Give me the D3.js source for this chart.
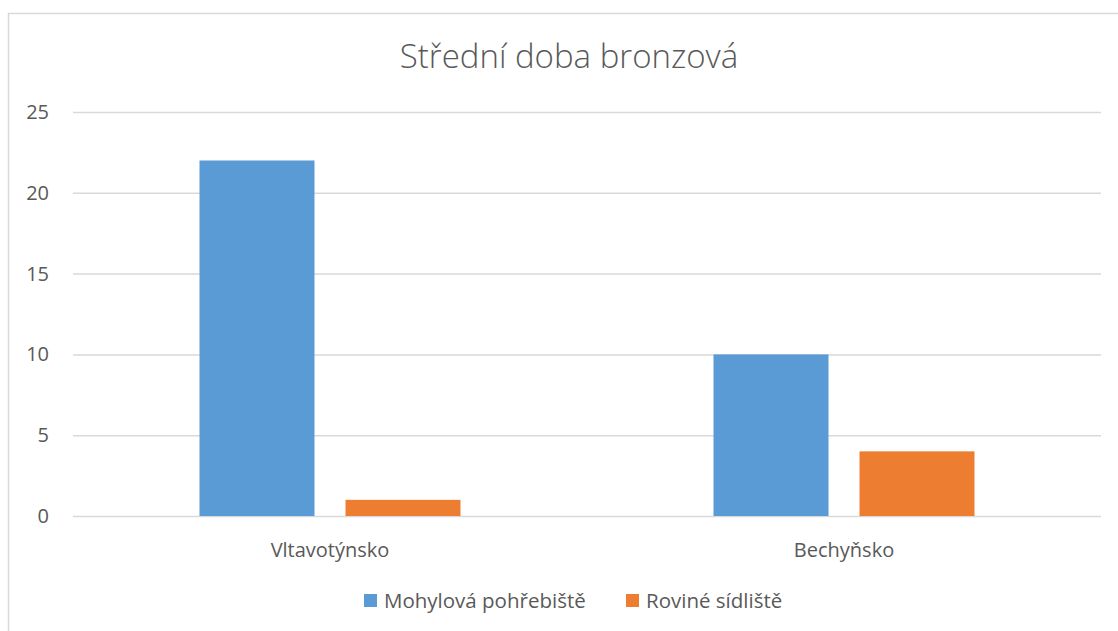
<!DOCTYPE html>
<html>
<head>
<meta charset="utf-8">
<script src="https://cdn.jsdelivr.net/npm/d3@7"></script>
<style>
  body { margin: 0; background: #fff; }
  text { font-family: "Open Sans", sans-serif; fill: #595959; }
</style>
</head>
<body>
<svg id="chart" width="1118" height="631"></svg>
<script>
// data
var categories = ["Vltavotýnsko", "Bechyňsko"];
var seriesNames = ["Mohylová pohřebiště", "Roviné sídliště"];
var seriesColors = ["#5b9bd5", "#ed7d31"];
var mohylova = [22, 10];
var rovine = [1, 4];
var yTicks = [0, 5, 10, 15, 20, 25];

var svg = d3.select("#chart");

// chart frame (cut off at right and bottom like the screenshot)
svg.append("path")
  .attr("d", "M8.5,640 V13.5 H1130")
  .attr("fill", "none")
  .attr("stroke", "#d9d9d9")
  .attr("stroke-width", 1.5);

var plot = {left: 73, right: 1101, top: 112, bottom: 516};

var y = d3.scaleLinear().domain([0, 25]).range([plot.bottom, plot.top]);
var x0 = d3.scaleBand().domain(categories).range([plot.left, plot.right]).padding(0);
// bars 115 wide with a 31px gap -> group 261 wide
var groupW = 261;
var x1 = d3.scaleBand().domain(seriesNames).range([0, groupW]).paddingInner(31 / 146).paddingOuter(0);

// gridlines
var yAxis = d3.axisLeft(y).tickValues(yTicks).tickSize(-(plot.right - plot.left)).tickPadding(24);
var gy = svg.append("g").attr("transform", "translate(" + plot.left + ",0)").call(yAxis);
gy.select(".domain").remove();
gy.selectAll(".tick line").attr("stroke", "#d9d9d9").attr("stroke-width", 1.5);
gy.selectAll(".tick text").attr("font-size", 20).attr("fill", "#595959")
  .style("font-family", "'Open Sans', sans-serif");

var rows = categories.map(function(c, i) {
  return {cat: c, values: [mohylova[i], rovine[i]]};
});

var groups = svg.append("g").selectAll("g")
  .data(rows).enter().append("g")
  .attr("transform", function(d) {
    return "translate(" + (x0(d.cat) + (x0.bandwidth() - groupW) / 2) + ",0)";
  });

groups.selectAll("rect")
  .data(function(d) { return d.values.map(function(v, j) { return {s: seriesNames[j], v: v, c: seriesColors[j]}; }); })
  .enter().append("rect")
  .attr("x", function(d) { return x1(d.s); })
  .attr("width", x1.bandwidth())
  .attr("y", function(d) { return y(d.v); })
  .attr("height", function(d) { return y(0) - y(d.v); })
  .attr("fill", function(d) { return d.c; });

// category labels
svg.append("g").selectAll("text")
  .data(categories).enter().append("text")
  .attr("x", function(d) { return x0(d) + x0.bandwidth() / 2; })
  .attr("y", 557)
  .attr("text-anchor", "middle")
  .attr("font-size", 20)
  .text(function(d) { return d; });

// title
svg.append("text")
  .attr("x", 569)
  .attr("y", 68)
  .attr("text-anchor", "middle")
  .attr("font-size", 33)
  .attr("font-weight", 300)
  .text("Střední doba bronzová");

// legend
var legendX = [364, 626];
var lg = svg.append("g").selectAll("g")
  .data(seriesNames).enter().append("g")
  .attr("transform", function(d, i) { return "translate(" + legendX[i] + ",594)"; });
lg.append("rect").attr("width", 13).attr("height", 13)
  .attr("fill", function(d, i) { return seriesColors[i]; });
lg.append("text").attr("x", 20).attr("y", 14).attr("font-size", 20.5)
  .text(function(d) { return d; });
</script>
</body>
</html>
